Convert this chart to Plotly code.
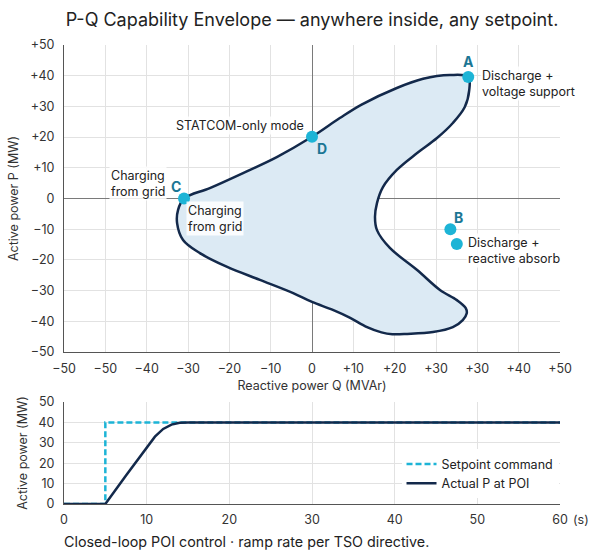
import plotly.graph_objects as go

# ---------------- data ----------------
# P-Q capability envelope outline (Q in MVAr, P in MW), traced clockwise from C
env_q = [-25.8, -20.6, -13.9, -7.1, 0.0, 5.6, 10.0, 17.1, 22.4, 27.8, 31.5,
         31.7, 30.8, 28.4, 25.2, 21.2, 17.1, 14.3, 13.1, 12.7, 13.1, 15.7, 21.2,
         25.8, 29.2, 31.0, 31.2, 30.4, 28.4, 24.4, 19.2, 16.2, 14.0, 11.1, 7.7, 4.2, 0.0, -3.8,
         -10.5, -17.1, -22.6, -26.0, -27.2, -27.0, -25.8]
env_p = [0.0, 3.4, 8.3, 13.5, 20.1, 26.2, 30.6, 36.0, 39.0, 40.2, 39.6,
         35.3, 29.8, 24.6, 19.7, 14.8, 9.3, 3.7, -1.5, -6.0, -10.3, -16.1, -23.3,
         -29.8, -33.1, -35.7, -37.4, -39.6, -41.9, -43.5, -44.1, -44.2, -43.6, -41.9, -38.9, -36.3, -33.7, -30.8,
         -26.5, -22.3, -17.8, -13.5, -8.0, -3.7, 0.0]

# operating points
pt_names = ["A", "B", "C", "D", ""]
pt_q = [31.5, 27.9, -25.8, 0.0, 29.2]
pt_p = [39.6, -10.0, 0.0, 20.1, -14.8]

# tick labels (as printed on the chart)
q_tick_labels = ["−50", "−50", "−40", "−30", "−20", "−10", "0",
                 "+10", "+20", "+30", "+30", "+40", "+50"]
p_tick_vals = [50, 40, 30, 20, 10, 0, -10, -20, -30, -40, -50]
p_tick_labels = ["+50", "+40", "+30", "+20", "+10", "0",
                 "−10", "−20", "−30", "−40", "−50"]

# step response
sp_t = [0, 5, 5, 60]
sp_p = [0, 0, 40, 40]
act_t = [0, 5, 7.5, 10, 11, 12, 13, 14, 15, 60]
act_p = [0, 0, 14, 28, 33, 36.8, 38.9, 39.8, 40, 40]

# ---------------- styles ----------------
NAVY = "#13294b"
CYAN = "#1db4d6"
TEAL = "#1b7694"
FILL = "#dceaf4"
GRID = "#e2e2e2"
AXIS = "#555555"
FONT = "Inter"

fig = go.Figure()

fig.add_trace(go.Scatter(
    x=env_q, y=env_p, mode="lines", fill="toself", fillcolor=FILL,
    line=dict(color=NAVY, width=2.5, shape="spline", smoothing=1.0),
    showlegend=False, hoverinfo="skip", xaxis="x", yaxis="y"))

fig.add_trace(go.Scatter(
    x=pt_q, y=pt_p, mode="markers",
    marker=dict(color=CYAN, size=12),
    showlegend=False, xaxis="x", yaxis="y"))

fig.add_trace(go.Scatter(
    x=sp_t, y=sp_p, mode="lines", name="Setpoint command",
    line=dict(color=CYAN, width=2.5, dash="6px,3px"),
    xaxis="x2", yaxis="y2"))
fig.add_trace(go.Scatter(
    x=act_t, y=act_p, mode="lines", name="Actual P at POI",
    line=dict(color=NAVY, width=2.5),
    xaxis="x2", yaxis="y2"))

n = len(q_tick_labels)
q_tick_vals = [-50 + i * 100 / (n - 1) for i in range(n)]

tickfont = dict(family=FONT, size=12.5, color="#333")
titlefont = dict(family=FONT, size=12.5, color="#333")

fig.update_layout(
    width=604, height=558,
    margin=dict(l=64, r=44, t=45, b=54),
    paper_bgcolor="white", plot_bgcolor="white",
    font=dict(family=FONT, color="#222"),
    title=dict(text="P-Q Capability Envelope — anywhere inside, any setpoint.",
               x=0.5, xref="paper", xanchor="center",
               y=1 - 20 / 558, yref="container", yanchor="middle",
               font=dict(family=FONT, size=18, color="#222")),
    xaxis=dict(domain=[0, 1], anchor="y", range=[-50, 50],
               tickvals=q_tick_vals, ticktext=q_tick_labels,
               showgrid=True, gridcolor=GRID, gridwidth=1,
               zeroline=True, zerolinecolor="#7a7a7a", zerolinewidth=1,
               showline=True, linecolor=AXIS, linewidth=1,
               ticks="", ticklabelstandoff=5, tickfont=tickfont,
               title=dict(text="Reactive power Q (MVAr)", font=titlefont, standoff=6)),
    yaxis=dict(domain=[(504 - 352) / 459, 1], anchor="x", range=[-50, 50],
               tickvals=p_tick_vals, ticktext=p_tick_labels,
               showgrid=True, gridcolor=GRID, gridwidth=1,
               zeroline=True, zerolinecolor="#7a7a7a", zerolinewidth=1,
               showline=True, linecolor=AXIS, linewidth=1,
               ticks="", ticklabelstandoff=6, tickfont=tickfont,
               title=dict(text="Active power P (MW)", font=titlefont, standoff=8)),
    xaxis2=dict(domain=[0, 1], anchor="y2", range=[0, 60], dtick=10,
                showgrid=True, gridcolor=GRID, zeroline=False,
                showline=True, linecolor=AXIS, linewidth=1,
                ticks="", ticklabelstandoff=4, tickfont=tickfont),
    yaxis2=dict(domain=[0, (504 - 402) / 459], anchor="x2", range=[0, 50], dtick=10,
                showgrid=True, gridcolor=GRID, zeroline=False,
                showline=True, linecolor=AXIS, linewidth=1,
                ticks="", ticklabelstandoff=6, tickfont=tickfont,
                title=dict(text="Active power (MW)", font=titlefont, standoff=8)),
    legend=dict(x=0.997, xanchor="right", y=0.012, yanchor="bottom",
                bgcolor="white", font=dict(family=FONT, size=12.5, color="#222"),
                tracegroupgap=0, itemwidth=30),
)

lab = dict(family=FONT, size=12.5, color="#222")
let = dict(family=FONT, size=14, color=TEAL, weight="bold")
WBG = "rgba(255,255,255,0.85)"

def ann(i, text, xs, ys, font, xanchor="center", align="left", bg=None):
    d = dict(x=pt_q[i], y=pt_p[i], xref="x", yref="y", text=text,
             showarrow=False, xshift=xs, yshift=ys, font=font,
             xanchor=xanchor, yanchor="middle", align=align)
    if bg:
        d["bgcolor"] = bg
        d["borderpad"] = 1
    fig.add_annotation(**d)

# A
ann(0, pt_names[0], 0, 15, let)
ann(0, "Discharge +<br>voltage support", 12, -7, lab, xanchor="left", bg=WBG)
# B
ann(1, pt_names[1], 8, 12, let)
ann(4, "Discharge +<br>reactive absorb", 9, -7, lab, xanchor="left", bg=WBG)
# C
ann(2, pt_names[2], -8, 12, let)
ann(2, "Charging<br>from grid", -17, 15, lab, xanchor="right", align="left", bg=WBG)
ann(2, "Charging<br>from grid", 2, -20, lab, xanchor="left", bg=WBG)
# D
ann(3, pt_names[3], 10, -12, let)
ann(3, "STATCOM-only mode", -6, 11, lab, xanchor="right", bg=WBG)

# seconds unit after last tick
fig.add_annotation(x=1.0, y=-15 / 459, xref="paper", yref="paper", text="(s)",
                   showarrow=False, xshift=11, xanchor="left", yanchor="middle",
                   font=dict(family=FONT, size=12.5, color="#333"))

# caption
fig.add_annotation(x=0, y=-37 / 459, xref="paper", yref="paper",
                   text="Closed-loop POI control · ramp rate per TSO directive.",
                   showarrow=False, xshift=-2, xanchor="left", yanchor="middle",
                   font=dict(family=FONT, size=14.3, color="#222"))

fig.write_html("out.html")
